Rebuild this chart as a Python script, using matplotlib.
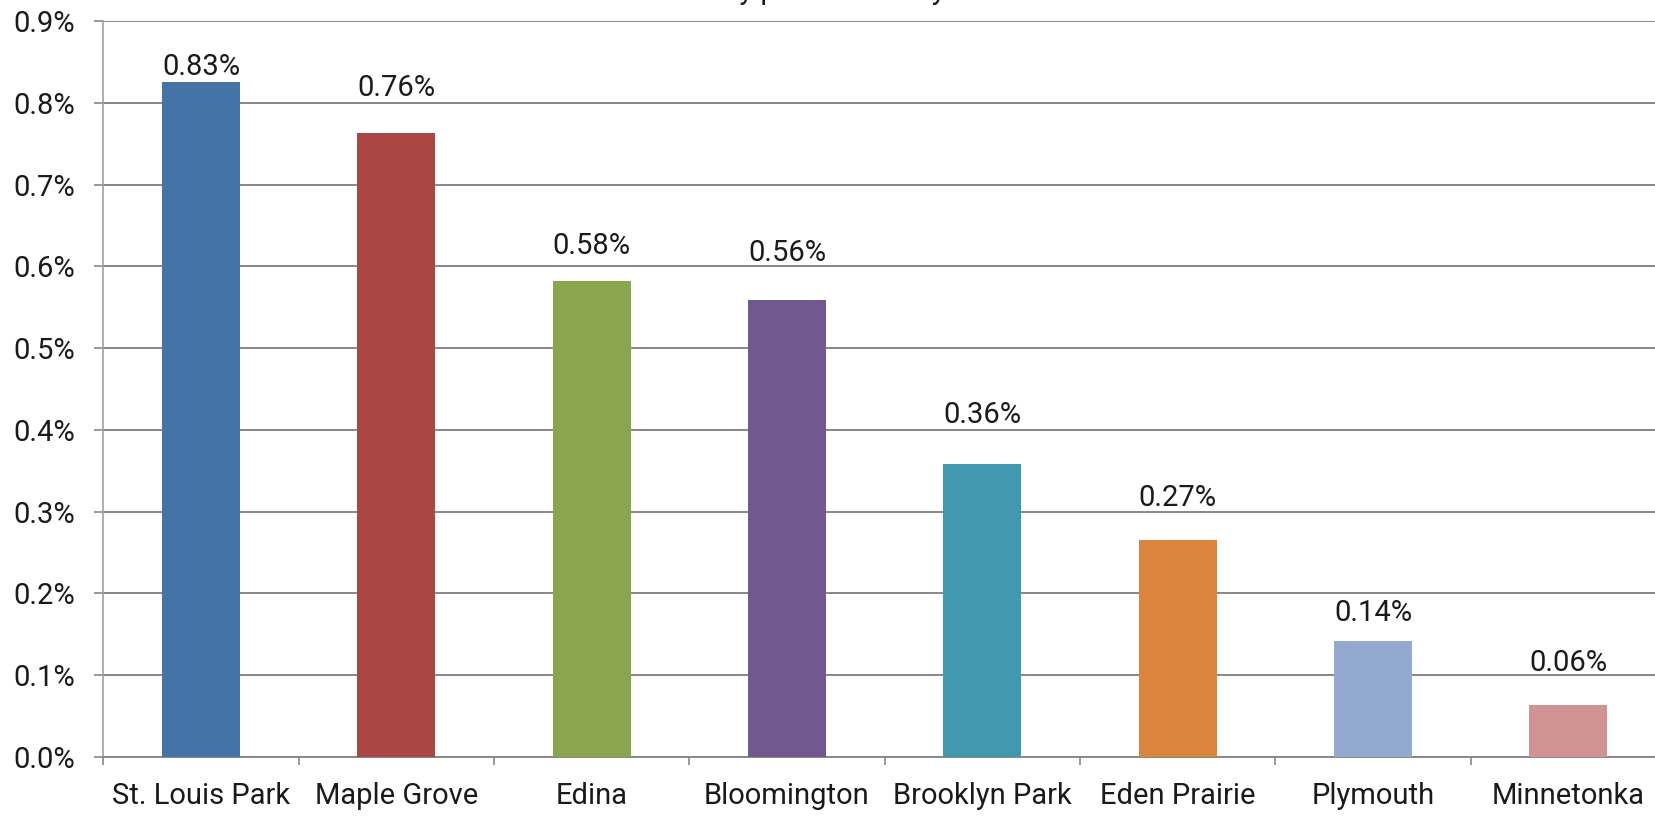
import numpy as np
import matplotlib

matplotlib.use("Agg")
import matplotlib.pyplot as plt
from matplotlib.ticker import FuncFormatter

cities = ["St. Louis Park", "Maple Grove", "Edina", "Bloomington",
          "Brooklyn Park", "Eden Prairie", "Plymouth", "Minnetonka"]
share = [0.825, 0.763, 0.582, 0.559, 0.358, 0.265, 0.142, 0.063]
labels = ["0.83%", "0.76%", "0.58%", "0.56%", "0.36%", "0.27%", "0.14%", "0.06%"]
colors = ["#4572A7", "#AA4643", "#89A54E", "#71588F",
          "#4198AF", "#DB843D", "#93A9CF", "#D19392"]
yticks = [0.0, 0.1, 0.2, 0.3, 0.4, 0.5, 0.6, 0.7, 0.8, 0.9]
title = "Growth by percent of city"

plt.rcParams["font.family"] = ["Roboto", "DejaVu Sans"]

W, H = 1655, 816
fig = plt.figure(figsize=(W / 100, H / 100), dpi=100, facecolor="white")
# axes runs a bit past the right edge, like the source
left, bottom, right, top = 103.3, 757, 1666, 21
ax = fig.add_axes([left / W, 1 - bottom / H, (right - left) / W, (bottom - top) / H])

x = np.arange(len(cities))
ax.bar(x, share, width=0.4, color=colors, zorder=3)

# labels were nudged by hand in the original, gap above each bar in points
gaps = [5, 27, 19.5, 28, 30, 24.5, 14.5, 25]
for xi, v, lab, g in zip(x, share, labels, gaps):
    ax.annotate(lab, (xi, v), xytext=(0, g), textcoords="offset points",
                ha="center", va="baseline", fontsize=21, color="#1a1a1a")

ax.set_xlim(-0.5, len(cities) - 0.5)
ax.set_ylim(0, 0.9)
ax.set_yticks(yticks)
ax.yaxis.set_major_formatter(FuncFormatter(lambda v, _: f"{v:.1f}%"))
ax.yaxis.grid(True, color="#878787", lw=1.4, zorder=0)

ax.set_xticks(np.arange(len(cities) + 1) - 0.5)
ax.set_xticklabels([])
ax.set_xticks(x, minor=True)
ax.set_xticklabels(cities, minor=True)
ax.tick_params(axis="x", which="major", length=6, width=1.2, color="#878787", direction="out")
ax.tick_params(axis="x", which="minor", length=0, pad=18, labelsize=21, labelcolor="#1a1a1a")
ax.tick_params(axis="y", length=6.5, width=1.2, color="#878787", pad=14,
               labelsize=21, labelcolor="#1a1a1a")

for side in ["top", "right"]:
    ax.spines[side].set_visible(False)
ax.spines["left"].set_color("#a0a0a0")
ax.spines["left"].set_linewidth(1.2)
ax.spines["bottom"].set_color("#878787")
ax.spines["bottom"].set_linewidth(1.4)

# title sits above the canvas, only its descenders show
fig.text(622 / W, 1 + 1 / H, title, ha="left", va="baseline", fontsize=21, color="#1a1a1a")

fig.savefig("out.png", dpi=100, facecolor="white")
